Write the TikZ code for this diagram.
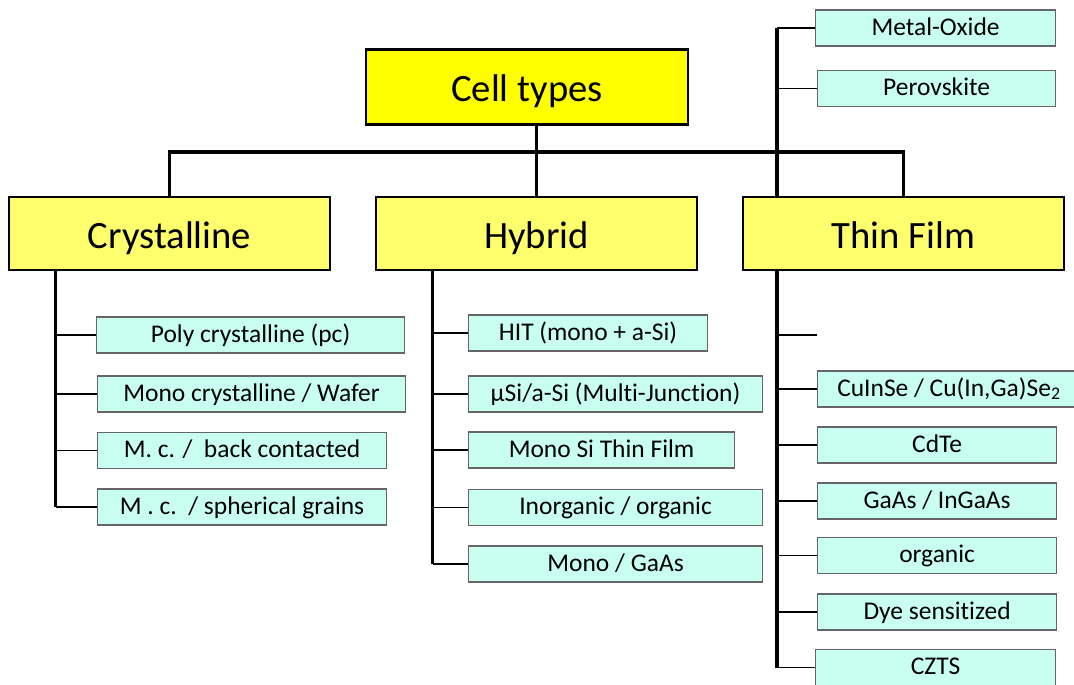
\documentclass[tikz,border=0pt]{standalone}
\usepackage{fontspec}
\setmainfont[Ligatures=NoCommon]{Carlito}
\definecolor{rootyellow}{RGB}{255,255,0}
\definecolor{catyellow}{RGB}{255,255,110}
\definecolor{leafcyan}{RGB}{200,255,240}
\begin{document}
\begin{tikzpicture}[
        x=0.02cm, y=-0.02cm,
        rootbox/.style={rectangle, draw, line width=1.6pt, fill=rootyellow, minimum width=6.44cm, minimum height=1.5cm, text height=17pt, text depth=0pt, font=\fontsize{22}{26}\selectfont},
        catbox/.style={rectangle, draw, line width=1.6pt, fill=catyellow, minimum width=6.42cm, minimum height=1.46cm, text height=16.8pt, text depth=0pt, font=\fontsize{22}{26}\selectfont},
        leafbox/.style={rectangle, draw=black!60, line width=0.7pt, fill=leafcyan, anchor=west, inner sep=0pt, minimum height=0.72cm, text height=8pt, text depth=0pt, font=\fontsize{14.5}{17}\selectfont},
        trunk/.style={line width=2pt},
        branch/.style={line width=1pt}
    ]

        \useasboundingbox (0,0) rectangle (1074,684);

        \node (root) [rootbox] at (527,87) {Cell types};
        \node (cryst) [catbox] at (169.5,233.5) {Crystalline};
        \node (hybrid) [catbox] at (536.5,233.5) {Hybrid};
        \node (thin) [catbox] at (903.5,233.5) {Thin Film};

        % crystalline
        \node (poly) [leafbox, minimum width=6.16cm] at (96,335) {Poly crystalline (pc)};
        \node (mono) [leafbox, minimum width=6.16cm] at (97,394) {Mono crystalline / Wafer};
        \node (back) [leafbox, minimum width=5.78cm] at (97,450.5) {M. c. /\ \ back contacted};
        \node (spher) [leafbox, minimum width=5.78cm] at (97,507) {M . c.\ \ / spherical grains};

        % hybrid
        \node (hit) [leafbox, minimum width=4.78cm] at (468,333) {HIT (mono + a-Si)};
        \node (musi) [leafbox, minimum width=5.88cm] at (468,394) {µSi/a-Si (Multi-Junction)};
        \node (monosi) [leafbox, minimum width=5.32cm] at (468,450) {Mono Si Thin Film};
        \node (inorg) [leafbox, minimum width=5.88cm] at (468,507.5) {Inorganic / organic};
        \node (gaas) [leafbox, minimum width=5.88cm] at (468,564) {Mono / GaAs};

        % thin film
        \node (metal) [leafbox, minimum width=4.8cm] at (815,28) {Metal-Oxide};
        \node (perov) [leafbox, minimum width=4.76cm] at (817,88.5) {Perovskite};
        \node (cigs) [leafbox, minimum width=5.26cm] at (817,389) {CuInSe / Cu(In,Ga)Se\textsubscript{2}};
        \node (cdte) [leafbox, minimum width=4.78cm] at (817,445) {CdTe};
        \node (ingaas) [leafbox, minimum width=4.78cm] at (817,501) {GaAs / InGaAs};
        \node (organic) [leafbox, minimum width=4.78cm] at (817,555.5) {organic};
        \node (dye) [leafbox, minimum width=4.78cm] at (817,612) {Dye sensitized};
        \node (czts) [leafbox, minimum width=4.8cm] at (815,667.5) {CZTS};

        \coordinate (bus) at (537,152);
        \coordinate (ctrunk) at (55.5,0);
        \coordinate (htrunk) at (432.5,0);
        \coordinate (ttrunk) at (777,0);
        \coordinate (tempty) at (817,335);

        \draw[trunk] (cryst.north) -- (cryst.north |- bus) -- (thin.north |- bus) -- (thin.north);
        \draw[trunk] (root.south -| hybrid.north) -- (hybrid.north);

        \draw[trunk] (ctrunk |- cryst.south) -- (ctrunk |- spher.west);
        \draw[branch] (ctrunk |- poly.west) -- (poly.west);
        \draw[branch] (ctrunk |- mono.west) -- (mono.west);
        \draw[branch] (ctrunk |- back.west) -- (back.west);
        \draw[branch] (ctrunk |- spher.west) -- (spher.west);

        \draw[trunk] (htrunk |- hybrid.south) -- (htrunk |- gaas.west);
        \draw[branch] (htrunk |- hit.west) -- (hit.west);
        \draw[branch] (htrunk |- musi.west) -- (musi.west);
        \draw[branch] (htrunk |- monosi.west) -- (monosi.west);
        \draw[branch] (htrunk |- inorg.west) -- (inorg.west);
        \draw[branch] (htrunk |- gaas.west) -- (gaas.west);

        \draw[trunk] (ttrunk |- metal.west) -- (ttrunk |- thin.north);
        \draw[trunk] (ttrunk |- thin.south) -- (ttrunk |- czts.west);
        \draw[branch] (ttrunk |- metal.west) -- (metal.west);
        \draw[branch] (ttrunk |- perov.west) -- (perov.west);
        \draw[branch] (ttrunk |- tempty) -- (tempty);
        \draw[branch] (ttrunk |- cigs.west) -- (cigs.west);
        \draw[branch] (ttrunk |- cdte.west) -- (cdte.west);
        \draw[branch] (ttrunk |- ingaas.west) -- (ingaas.west);
        \draw[branch] (ttrunk |- organic.west) -- (organic.west);
        \draw[branch] (ttrunk |- dye.west) -- (dye.west);
        \draw[branch] (ttrunk |- czts.west) -- (czts.west);

    \end{tikzpicture}
\end{document}
